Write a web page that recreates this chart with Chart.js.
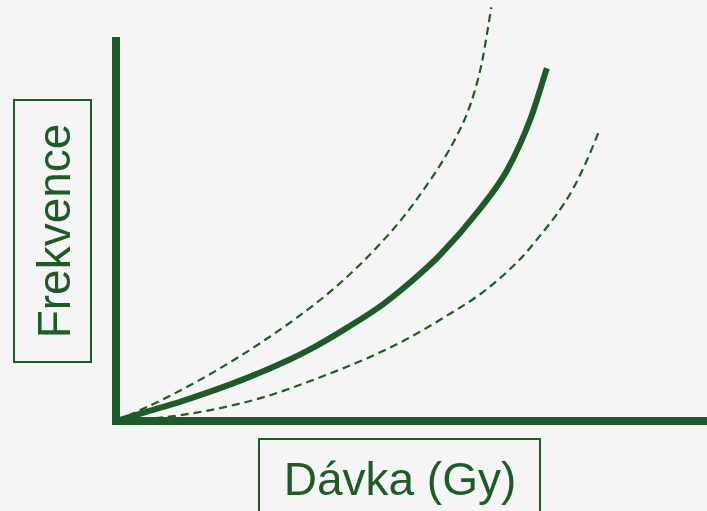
<!DOCTYPE html>
<html>
<head>
<meta charset="utf-8">
<script src="https://cdn.jsdelivr.net/npm/chart.js@4"></script>
<style>
  html, body { margin:0; padding:0; background:#f5f5f5; }
  #wrap { width:707px; height:511px; }
</style>
</head>
<body>
<div id="wrap"><canvas id="doseChart" width="707" height="511"></canvas></div>
<script>
// data (dose 0-100, frequency 0-100, arbitrary units)
const midX   = [0, 5.4, 11.2, 16.8, 22.3, 28.1, 33.7, 39.2, 45.0, 49.7, 54.8, 61.4, 66.2, 70.1, 72.9];
const midY   = [0, 2.5, 5.2, 8.1, 11.3, 15.1, 19.4, 24.4, 30.2, 36.0, 43.2, 54.9, 65.4, 78.6, 91.9];
const upperX = [0, 3.2, 8.3, 16.8, 25.2, 33.7, 38.7, 43.8, 48.6, 53.1, 55.3, 57.7, 59.4, 60.7, 61.9, 62.8, 63.5];
const upperY = [0, 2.2, 5.9, 13.0, 21.1, 30.5, 37.0, 44.7, 53.1, 62.6, 67.8, 74.4, 80.1, 86.0, 93.3, 101.1, 107.8];
const lowerX = [0, 8.3, 16.8, 25.2, 33.7, 42.1, 48.9, 55.3, 62.1, 68.4, 71.7, 74.6, 77.3, 79.7, 81.6];
const lowerY = [0, 1.0, 3.1, 6.3, 10.9, 16.1, 21.1, 26.8, 33.6, 42.2, 48.2, 53.9, 60.4, 68.0, 75.0];
const xTitle = "Dávka (Gy)";
const yTitle = "Frekvence";

const green = "#1e5b28";

function pts(xs, ys) {
    let arr = new Array();
    for(let i=0; i<xs.length; i++) {
        arr.push({x: xs[i], y: ys[i]});
    }
    return arr;
}

// background + boxed axis titles
const boxes = {
    id: "boxes",
    beforeDraw(chart) {
        const ctx = chart.ctx;
        ctx.save();
        ctx.fillStyle = "#f5f5f5";
        ctx.fillRect(0, 0, chart.width, chart.height);
        ctx.restore();
    },
    afterDraw(chart) {
        const ctx = chart.ctx;
        ctx.save();
        ctx.strokeStyle = green;
        ctx.lineWidth = 2;
        ctx.strokeRect(14, 100, 77, 262);
        ctx.strokeRect(259, 439, 281, 100);
        ctx.fillStyle = green;
        ctx.font = '46px "Liberation Sans", Arial, sans-serif';
        ctx.textAlign = "center";
        ctx.textBaseline = "alphabetic";
        ctx.fillText(xTitle, 400, 495);
        ctx.translate(70, 231);
        ctx.rotate(-Math.PI/2);
        ctx.fillText(yTitle, 0, 0);
        ctx.restore();
    }
};

let doseChart = new Chart(document.getElementById("doseChart"), {
    type:'scatter',
    data:{
        datasets:[{
            label:"upper",
            data: pts(upperX, upperY),
            showLine:true,
            borderColor:green,
            borderWidth:2.2,
            borderDash:[8,5],
            pointRadius:0,
            cubicInterpolationMode:'monotone',
            clip:false
        },{
            label:"mid",
            data: pts(midX, midY),
            showLine:true,
            borderColor:green,
            borderWidth:6,
            pointRadius:0,
            cubicInterpolationMode:'monotone',
            clip:false
        },{
            label:"lower",
            data: pts(lowerX, lowerY),
            showLine:true,
            borderColor:green,
            borderWidth:2.2,
            borderDash:[8,5],
            pointRadius:0,
            cubicInterpolationMode:'monotone',
            clip:false
        }]
    },
    options:{
        responsive:false,
        animation:false,
        layout:{ padding:{ left:116, top:41, right:0, bottom:90 } },
        plugins:{ legend:{display:false}, tooltip:{enabled:false} },
        scales:{
            x:{
                type:'linear', min:0, max:100,
                ticks:{display:false},
                grid:{display:false, drawTicks:false},
                border:{display:true, width:8, color:green}
            },
            y:{
                type:'linear', min:0, max:99,
                ticks:{display:false},
                grid:{display:false, drawTicks:false},
                border:{display:true, width:8, color:green}
            }
        }
    },
    plugins:[boxes]
});
</script>
</body>
</html>
